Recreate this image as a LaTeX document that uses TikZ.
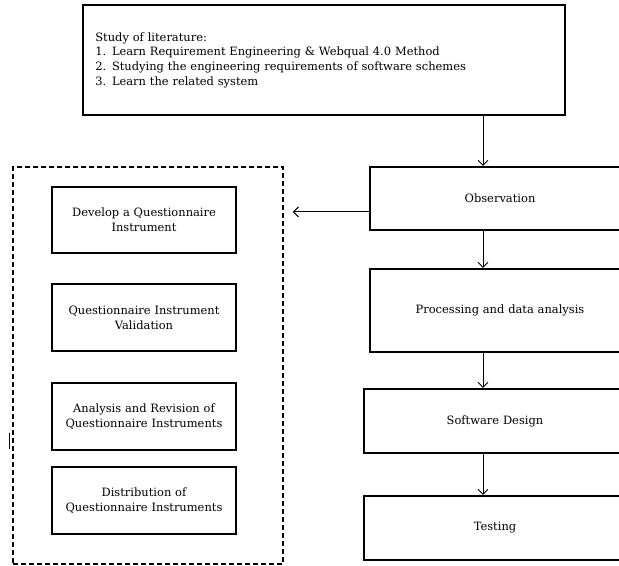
\documentclass[tikz,border=0pt]{standalone}
\usepackage{fontspec}
\setmainfont{DejaVu Serif}
\usepackage{tikz}
\usetikzlibrary{arrows.meta, positioning}

\begin{document}
\begin{tikzpicture}[node distance=1.5cm, auto, font=\fontsize{8.6}{11}\selectfont]
    % Define styles
    \tikzset{
        study/.style={rectangle, draw=black, line width=1.5pt, text width=343pt, align=left, minimum width=361.5pt, minimum height=82.5pt, inner sep=9pt},
        stage/.style={rectangle, draw=black, line width=1.5pt, text width=180pt, align=center, minimum width=195pt, minimum height=47.25pt},
        instrument/.style={rectangle, draw=black, line width=1.5pt, text width=130pt, align=center, minimum width=138pt, minimum height=50.25pt},
        group/.style={rectangle, draw=black, line width=1.2pt, dash pattern=on 3.75pt off 2.25pt, minimum width=202.5pt, minimum height=297.75pt},
        flow/.style={-{Straight Barb[length=3.75pt, width=7.5pt]}, line width=0.75pt}
    }
    \clip (0,0) rectangle (464.25pt,-424.5pt);

    % Nodes
    \node[study] (literature) at (243pt,-45pt) {Study of literature:\\
        1. Learn Requirement Engineering \& Webqual 4.0 Method\\
        2. Studying the engineering requirements of software schemes\\
        3. Learn the related system};

    \node[stage, below=37.5pt of literature, xshift=132pt] (observation) {Observation};
    \node[stage, below=27.75pt of observation, minimum height=62.25pt] (processing) {Processing and data analysis};
    \node[stage, below=26.25pt of processing, xshift=-3.75pt, minimum width=196.5pt, minimum height=48pt] (design) {Software Design};
    \node[stage, below=30.75pt of design, minimum width=196.5pt, minimum height=48pt] (testing) {Testing};

    \node[group] (questionnaire) at (111pt,-274.1pt) {};
    \node[instrument, minimum height=49.5pt] (develop) at (108pt,-165pt) {Develop a Questionnaire\\ Instrument};
    \node[instrument, below=21.75pt of develop] (validation) {Questionnaire Instrument\\ Validation};
    \node[instrument, below=22.5pt of validation] (revision) {Analysis and Revision of\\ Questionnaire Instruments};
    \node[instrument, below=11.25pt of revision] (distribution) {Distribution of\\ Questionnaire Instruments};

    \coordinate (spine) at (362.25pt,0);
    \coordinate (branch) at ([yshift=-10pt]observation.west);

    % Arrows
    \draw[flow] (literature.south -| spine) -- (observation.north -| spine);
    \draw[flow] (observation.south -| spine) -- (processing.north -| spine);
    \draw[flow] (processing.south -| spine) -- (design.north -| spine);
    \draw[flow] (design.south -| spine) -- (testing.north -| spine);

    \draw[flow, shorten >=6.75pt] (branch) -- (branch -| questionnaire.east);

    \draw[line width=0.9pt] (7.1pt,-324.75pt) -- (7.1pt,-336.75pt);
\end{tikzpicture}
\end{document}
